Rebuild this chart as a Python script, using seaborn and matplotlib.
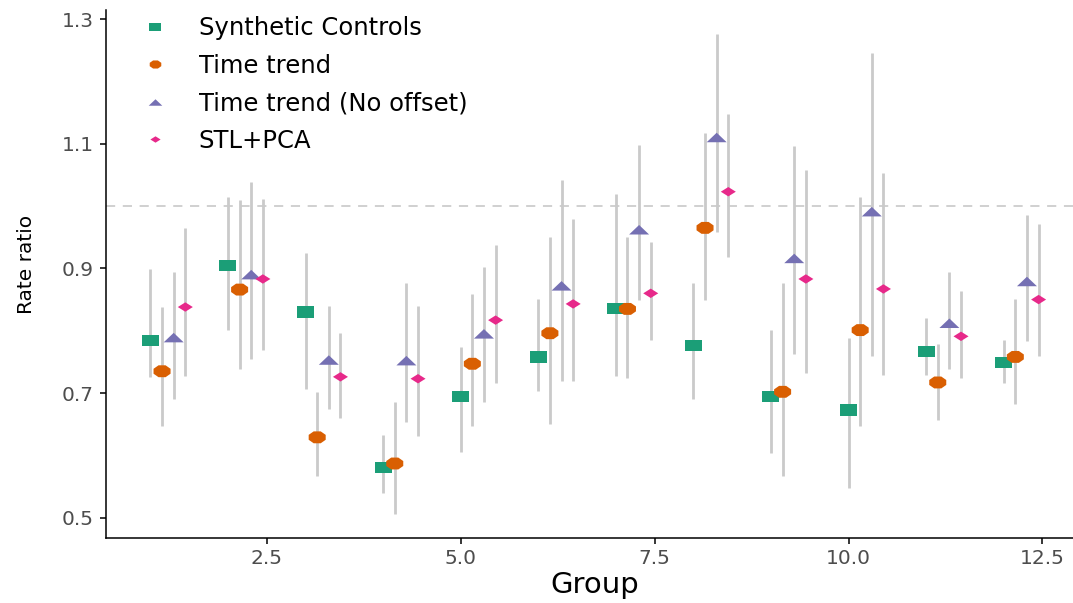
import numpy as np
import pandas as pd
import seaborn as sns
import matplotlib.pyplot as plt
from matplotlib.path import Path

# values
groups = list(range(1, 13))
methods = ['Synthetic Controls', 'Time trend', 'Time trend (No offset)', 'STL+PCA']

sc_est = [0.784, 0.905, 0.830, 0.581, 0.694, 0.758, 0.836, 0.776, 0.695, 0.673, 0.767, 0.749]
sc_lo = [0.726, 0.801, 0.706, 0.540, 0.606, 0.703, 0.727, 0.691, 0.604, 0.547, 0.729, 0.716]
sc_hi = [0.899, 1.014, 0.924, 0.633, 0.774, 0.851, 1.019, 0.876, 0.801, 0.789, 0.820, 0.785]

tt_est = [0.735, 0.866, 0.629, 0.587, 0.747, 0.796, 0.835, 0.965, 0.702, 0.801, 0.717, 0.758]
tt_lo = [0.647, 0.739, 0.567, 0.506, 0.647, 0.650, 0.724, 0.850, 0.567, 0.647, 0.657, 0.682]
tt_hi = [0.838, 1.010, 0.702, 0.686, 0.859, 0.950, 0.950, 1.117, 0.876, 1.014, 0.778, 0.851]

tn_est = [0.789, 0.890, 0.753, 0.752, 0.795, 0.872, 0.962, 1.110, 0.916, 0.991, 0.812, 0.879]
tn_lo = [0.691, 0.754, 0.675, 0.654, 0.685, 0.719, 0.850, 0.959, 0.762, 0.760, 0.739, 0.783]
tn_hi = [0.894, 1.038, 0.840, 0.876, 0.902, 1.042, 1.098, 1.276, 1.096, 1.245, 0.894, 0.986]

stl_est = [0.838, 0.883, 0.726, 0.723, 0.817, 0.843, 0.860, 1.023, 0.883, 0.867, 0.791, 0.850]
stl_lo = [0.727, 0.769, 0.660, 0.631, 0.716, 0.719, 0.785, 0.918, 0.732, 0.729, 0.724, 0.760]
stl_hi = [0.965, 1.012, 0.797, 0.840, 0.938, 0.979, 0.942, 1.147, 1.058, 1.053, 0.863, 0.971]

dodge = [0.0, 0.15, 0.3, 0.45]
x_ticks = [2.5, 5.0, 7.5, 10.0, 12.5]
x_ticklabels = ['2.5', '5.0', '7.5', '10.0', '12.5']
y_ticks = [0.5, 0.7, 0.9, 1.1, 1.3]
y_ticklabels = ['0.5', '0.7', '0.9', '1.1', '1.3']

est = [sc_est, tt_est, tn_est, stl_est]
lo = [sc_lo, tt_lo, tn_lo, stl_lo]
hi = [sc_hi, tt_hi, tn_hi, stl_hi]

rows = []
for m, name in enumerate(methods):
    for i, g in enumerate(groups):
        rows.append({'Group': g + dodge[m], 'Method': name,
                     'rr': est[m][i], 'lo': lo[m][i], 'hi': hi[m][i]})
df = pd.DataFrame(rows)

# marker shapes (the picture is stretched sideways, so are the shapes)
t = np.linspace(0, 2 * np.pi, 9)[:-1] + np.pi / 8
oct_verts = list(zip(1.43 * np.cos(t), np.sin(t)))
markers = {
    'Synthetic Controls': Path([(-1.5, -1), (1.5, -1), (1.5, 1), (-1.5, 1), (-1.5, -1)], closed=True),
    'Time trend': Path(oct_verts + [oct_verts[0]], closed=True),
    'Time trend (No offset)': Path([(-2.1, -1), (2.1, -1), (0, 1), (-2.1, -1)], closed=True),
    'STL+PCA': Path([(-1.6, 0), (0, 1.0), (1.6, 0), (0, -1.0), (-1.6, 0)], closed=True),
}
sizes = {'Synthetic Controls': 150, 'Time trend': 150,
         'Time trend (No offset)': 207, 'STL+PCA': 117}
palette = dict(zip(methods, sns.color_palette('Dark2', 4)))

sns.set_style('ticks')
plt.rcParams['font.family'] = ['DejaVu Sans']
plt.rcParams['text.color'] = 'black'
plt.rcParams['axes.labelcolor'] = 'black'

fig = plt.figure(figsize=(10.73, 6.03), dpi=100)
ax = fig.add_axes([106 / 1073, 65 / 603, 977 / 1073, 528 / 603])

ax.axhline(1.0, color='#C4C4C4', lw=1.1, dashes=(6, 5), zorder=0)
ax.vlines(df['Group'], df['lo'], df['hi'], color='#CACACA', lw=2.0, zorder=1)
sns.scatterplot(data=df, x='Group', y='rr', hue='Method', style='Method', size='Method',
                hue_order=methods, style_order=methods, size_order=methods,
                palette=palette, markers=markers, sizes=sizes,
                linewidth=0, ax=ax, zorder=3)

handles, labels = ax.get_legend_handles_labels()
ax.legend(handles, labels, loc='upper left', bbox_to_anchor=(0.038, 0.9886),
          frameon=False, fontsize=17.5, markerscale=0.68, borderpad=0,
          borderaxespad=0, handlelength=1.0, handletextpad=1.28, labelspacing=0.56)

ax.set_xlim(0.4275, 13.0225)
ax.set_ylim(0.4675, 1.3145)
ax.set_xticks(x_ticks)
ax.set_xticklabels(x_ticklabels)
ax.set_yticks(y_ticks)
ax.set_yticklabels(y_ticklabels)
ax.tick_params(axis='both', labelsize=14.5, labelcolor='#4D4D4D', color='black',
               length=4, width=1.1)
ax.tick_params(axis='y', pad=5)
ax.tick_params(axis='x', pad=4)
ax.set_xlabel('Group', fontsize=21, labelpad=2)
ax.set_ylabel('Rate ratio', fontsize=14.5)
ax.yaxis.set_label_coords(-0.072, 0.519)
for side in ['top', 'right']:
    ax.spines[side].set_visible(False)
for side in ['left', 'bottom']:
    ax.spines[side].set_color('black')
    ax.spines[side].set_linewidth(1.1)

fig.savefig('out.png', dpi=100)
